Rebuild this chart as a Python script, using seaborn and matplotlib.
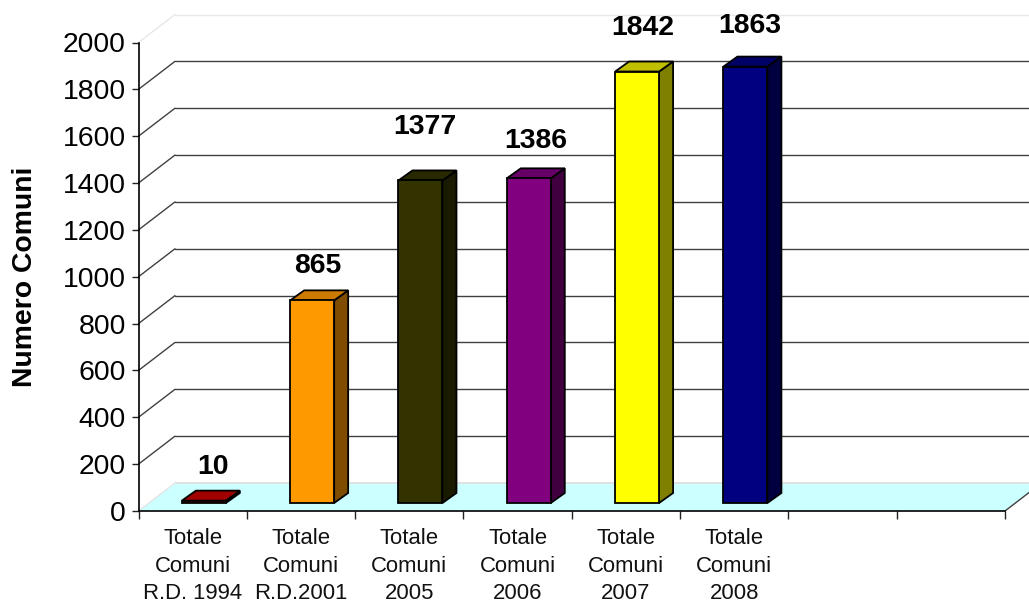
import matplotlib
matplotlib.use("Agg")
import matplotlib.pyplot as plt
from matplotlib.patches import Polygon
import numpy as np
import pandas as pd
import seaborn as sns

categories = ["Totale\nComuni\nR.D. 1994", "Totale\nComuni\nR.D.2001", "Totale\nComuni\n2005",
              "Totale\nComuni\n2006", "Totale\nComuni\n2007", "Totale\nComuni\n2008", " ", "  "]
values = [10, 865, 1377, 1386, 1842, 1863, np.nan, np.nan]
front_colors = ["#C00000", "#FF9900", "#333300", "#800080", "#FFFF00", "#000080", "#FFFFFF", "#FFFFFF"]
top_colors = ["#A00000", "#CC7A00", "#292900", "#660066", "#BFBF00", "#000066"]
side_colors = ["#600000", "#7F4C00", "#1A1A00", "#400040", "#808000", "#000040"]
y_ticks = list(range(0, 2001, 200))
# label offsets from each bar's value point, in pixels
label_dx = [20, 17, 16, 18.5, 17, 16]
label_dy = [42, 42, 61.5, 45, 52, 49]

sns.set_theme(style="white")
plt.rcParams["font.family"] = ["Liberation Sans", "DejaVu Sans"]

W, H = 1029, 603
L, R, T, B = 138.5, 1005, 42.5, 511
fig = plt.figure(figsize=(W / 100, H / 100), dpi=100, facecolor="white")
ax = fig.add_axes([L / W, 1 - B / H, (R - L) / W, (B - T) / H])

df = pd.DataFrame({"cat": categories, "val": values})
sns.barplot(data=df, x="cat", y="val", hue="cat", order=categories, hue_order=categories,
            palette=front_colors, width=0.406, dodge=False, legend=False, ax=ax,
            edgecolor="black", linewidth=1.3, saturation=1, zorder=5)

ax.set_xlim(-0.5, 7.5)
ax.set_ylim(0, 2000)
px_x = 8 / (R - L)            # category units per pixel
px_y = 2000 / (B - T)         # value units per pixel

back_x, back_y = 36.5 * px_x, 28 * px_y
xmin, xmax = -0.5, 7.5

# floor
ax.add_patch(Polygon([(xmin, 0), (xmin + back_x, back_y), (xmax + back_x, back_y), (xmax, 0)],
                     closed=True, facecolor="#CCFFFF", edgecolor="none", clip_on=False, zorder=1))
ax.plot([xmin + back_x, xmax + back_x], [back_y, back_y], color="#DDDDDD", lw=1.2, clip_on=False, zorder=2)
ax.plot([xmin, xmin + back_x], [0, back_y], color="#E4E4E4", lw=1, clip_on=False, zorder=2)
ax.plot([xmax, xmax + back_x], [0, back_y], color="#404040", lw=1, clip_on=False, zorder=2)

# back wall grid
for v in y_ticks[1:]:
    col = "#E8E8E8" if v == 2000 else "#404040"
    ax.plot([xmin, xmin + back_x], [v, v + back_y], color=col, lw=1, clip_on=False, zorder=2)
    ax.plot([xmin + back_x, xmax + back_x], [v + back_y, v + back_y], color=col, lw=1, clip_on=False, zorder=2)

# bars with depth
depth_x, depth_y = 14 * px_x, 10 * px_y
shift_x, shift_y = 11.2 * px_x, 8 * px_y
bars = [p for p in ax.patches if isinstance(p, matplotlib.patches.Rectangle)
        and np.isfinite(p.get_height()) and p.get_height() > 0]
bars.sort(key=lambda p: p.get_x())
for i, p in enumerate(bars):
    p.set_x(p.get_x() + shift_x)
    p.set_y(shift_y)
    p.set_clip_on(False)
    x0, x1 = p.get_x(), p.get_x() + p.get_width()
    y0, y1 = shift_y, shift_y + p.get_height()
    ax.add_patch(Polygon([(x1, y0), (x1 + depth_x, y0 + depth_y), (x1 + depth_x, y1 + depth_y), (x1, y1)],
                         closed=True, facecolor=side_colors[i], edgecolor="black", lw=1.3,
                         clip_on=False, zorder=4))
    ax.add_patch(Polygon([(x0, y1), (x0 + depth_x, y1 + depth_y), (x1 + depth_x, y1 + depth_y), (x1, y1)],
                         closed=True, facecolor=top_colors[i], edgecolor="black", lw=1.3,
                         clip_on=False, zorder=4))
    ax.annotate(f"{values[i]}", xy=(i, values[i]),
                xytext=(label_dx[i] * 0.72, label_dy[i] * 0.72), textcoords="offset points",
                ha="center", va="center", fontsize=20.4, fontweight="bold", color="black",
                annotation_clip=False, zorder=6)

# axes furniture
ax.set_yticks(y_ticks)
ax.tick_params(axis="y", left=True, length=5.2, width=1, color="#222222", pad=4,
               labelsize=20.4, labelcolor="black")
ax.set_xticks(range(8))
ax.set_xticklabels([c.strip() for c in categories], fontsize=15.9, color="#111111", linespacing=1.4)
ax.tick_params(axis="x", which="major", bottom=False, length=0, pad=12.4)
ax.set_xticks(np.arange(-0.5, 8), minor=True)
ax.tick_params(axis="x", which="minor", bottom=True, length=6, width=1, color="#222222")
ax.set_xlabel("")
ax.set_ylabel("")
fig.text(25 / W, 1 - 277 / H, "Numero Comuni", rotation=90, ha="center", va="center",
         fontsize=20.4, fontweight="bold", color="black")
sns.despine(ax=ax)
for s in ("left", "bottom"):
    ax.spines[s].set_color("black")
    ax.spines[s].set_linewidth(1.2)
    ax.spines[s].set_zorder(3)

fig.savefig("out.png", dpi=100, facecolor="white")
